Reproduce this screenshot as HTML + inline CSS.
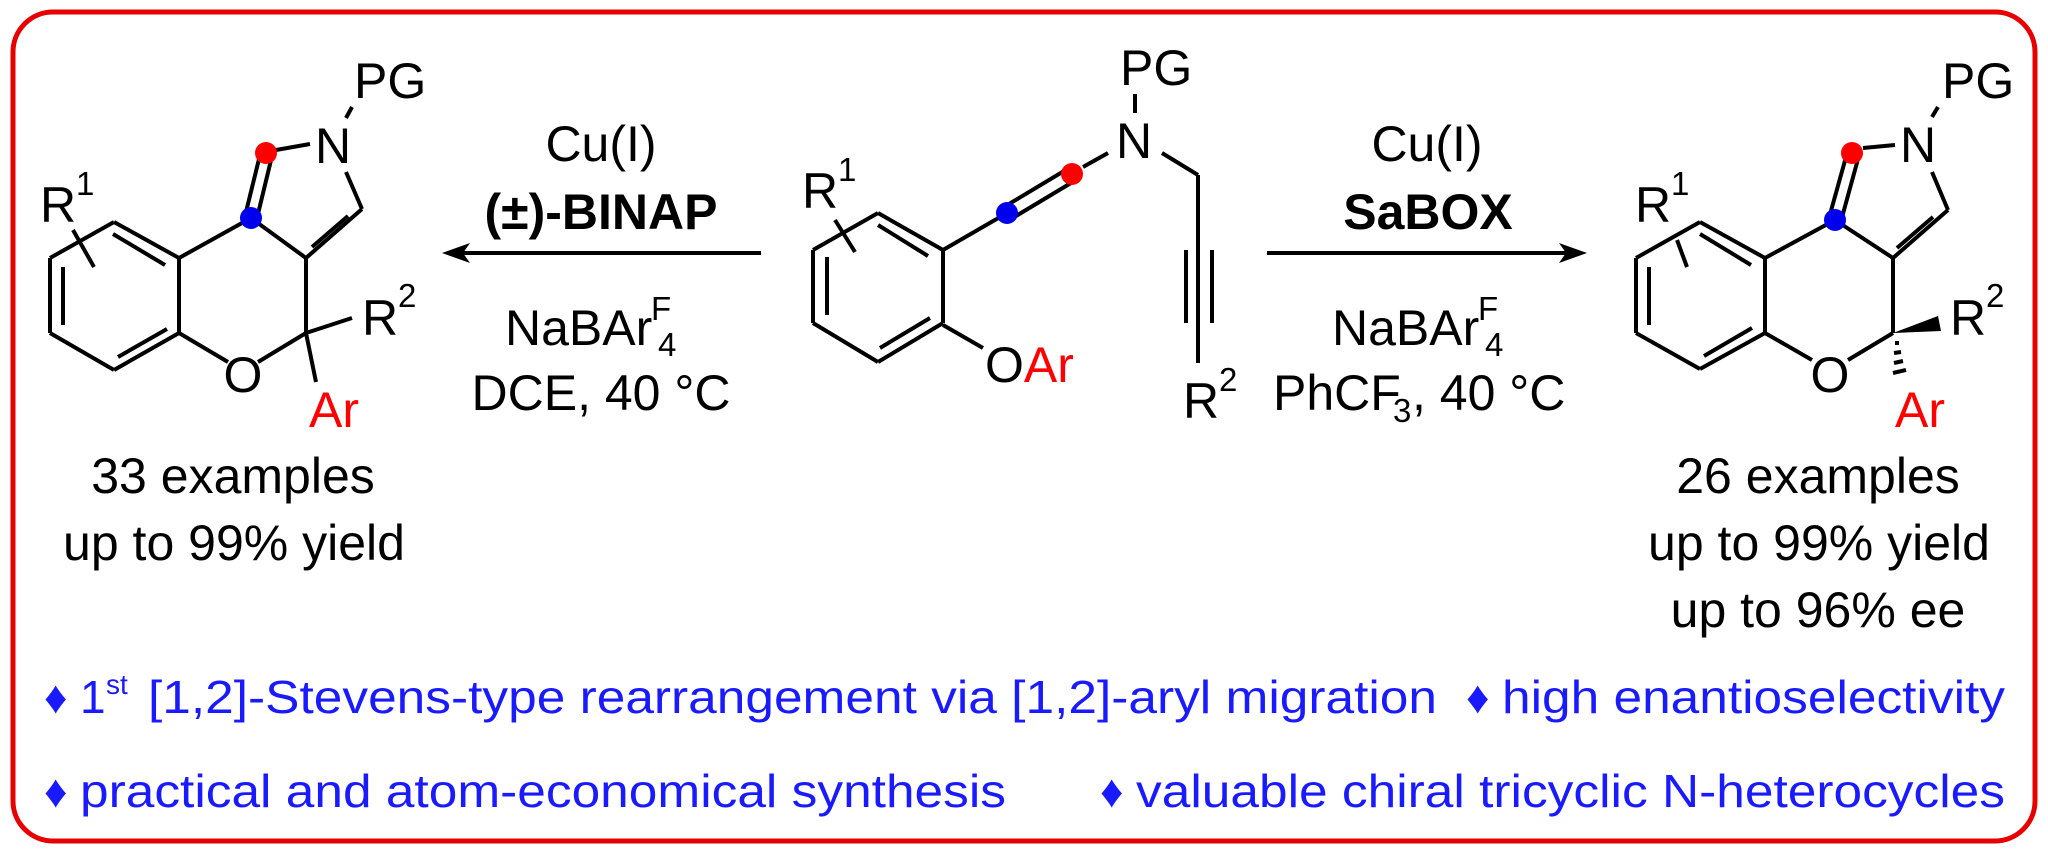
<!DOCTYPE html>
<html><head><meta charset="utf-8"><style>
html,body{margin:0;padding:0;background:#fff;}
svg{display:block;}
text{font-family:"Liberation Sans",Arial,sans-serif;}
</style></head><body>
<svg width="2048" height="854" viewBox="0 0 2048 854" xmlns="http://www.w3.org/2000/svg">
<rect x="13" y="12" width="2022" height="829" rx="40" ry="40" fill="none" stroke="#e60000" stroke-width="5"/>
<g stroke="#000" stroke-width="4" fill="none" stroke-linecap="butt">
<line x1="276" y1="150" x2="310" y2="144"/>
<line x1="352" y1="107" x2="346" y2="118"/>
<line x1="346" y1="172" x2="362" y2="209"/>
<line x1="362" y1="209" x2="306" y2="258"/>
<line x1="348" y1="216" x2="312" y2="247"/>
<line x1="251" y1="218" x2="306" y2="258"/>
<line x1="306" y1="258" x2="306" y2="333"/>
<line x1="251" y1="218" x2="179" y2="258"/>
<line x1="179" y1="258" x2="179" y2="333"/>
<line x1="179" y1="258" x2="114" y2="222"/>
<line x1="113" y1="234" x2="165" y2="265"/>
<line x1="114" y1="222" x2="50" y2="258"/>
<line x1="50" y1="258" x2="50" y2="333"/>
<line x1="63" y1="267" x2="63" y2="325"/>
<line x1="50" y1="333" x2="114" y2="370"/>
<line x1="114" y1="370" x2="179" y2="333"/>
<line x1="118" y1="357" x2="167" y2="329"/>
<line x1="179" y1="333" x2="228" y2="362"/>
<line x1="258" y1="362" x2="306" y2="333"/>
<line x1="306" y1="333" x2="352" y2="318"/>
<line x1="306" y1="333" x2="316" y2="382"/>
<line x1="73" y1="230" x2="94" y2="267"/>
<line x1="260" y1="155" x2="245" y2="216"/>
<line x1="272" y1="156" x2="257" y2="218"/>
<line x1="1135" y1="94" x2="1135" y2="113"/>
<line x1="1108" y1="153" x2="1083" y2="167"/>
<line x1="1069" y1="168" x2="1004" y2="207"/>
<line x1="1076" y1="180" x2="1011" y2="219"/>
<line x1="1007" y1="213" x2="943" y2="250"/>
<line x1="943" y1="250" x2="943" y2="323"/>
<line x1="943" y1="250" x2="878" y2="213"/>
<line x1="878" y1="225" x2="928" y2="256"/>
<line x1="878" y1="213" x2="813" y2="250"/>
<line x1="813" y1="250" x2="813" y2="323"/>
<line x1="827" y1="257" x2="827" y2="315"/>
<line x1="813" y1="323" x2="878" y2="362"/>
<line x1="878" y1="362" x2="943" y2="323"/>
<line x1="880" y1="348" x2="930" y2="318"/>
<line x1="943" y1="325" x2="983" y2="348"/>
<line x1="1162" y1="153" x2="1198" y2="175"/>
<line x1="1198" y1="175" x2="1198" y2="363"/>
<line x1="1186" y1="250" x2="1186" y2="323"/>
<line x1="1212" y1="250" x2="1212" y2="323"/>
<line x1="835" y1="220" x2="855" y2="252"/>
<line x1="1863" y1="148" x2="1895" y2="145"/>
<line x1="1938" y1="107" x2="1932" y2="117"/>
<line x1="1932" y1="172" x2="1948" y2="210"/>
<line x1="1948" y1="210" x2="1893" y2="258"/>
<line x1="1933" y1="217" x2="1897" y2="248"/>
<line x1="1835" y1="220" x2="1893" y2="258"/>
<line x1="1893" y1="258" x2="1893" y2="333"/>
<line x1="1835" y1="220" x2="1765" y2="258"/>
<line x1="1765" y1="258" x2="1765" y2="333"/>
<line x1="1765" y1="258" x2="1700" y2="222"/>
<line x1="1700" y1="234" x2="1751" y2="265"/>
<line x1="1700" y1="222" x2="1636" y2="258"/>
<line x1="1636" y1="258" x2="1636" y2="333"/>
<line x1="1649" y1="267" x2="1649" y2="325"/>
<line x1="1636" y1="333" x2="1700" y2="369"/>
<line x1="1700" y1="369" x2="1765" y2="333"/>
<line x1="1704" y1="356" x2="1752" y2="328"/>
<line x1="1765" y1="333" x2="1812" y2="360"/>
<line x1="1848" y1="360" x2="1893" y2="333"/>
<line x1="1677" y1="240" x2="1687" y2="267"/>
<line x1="1846" y1="157" x2="1829" y2="218"/>
<line x1="1858" y1="159" x2="1841" y2="221"/>
<line x1="1895" y1="343" x2="1899" y2="343"/>
<line x1="1894" y1="353" x2="1901" y2="352"/>
<line x1="1894" y1="363" x2="1903" y2="361"/>
<line x1="1893" y1="373" x2="1906" y2="370"/>
<line x1="761" y1="253" x2="456" y2="253"/>
<line x1="1267" y1="253" x2="1572" y2="253"/>
</g>
<polygon points="1893,333 1938,316 1941,331" fill="#000"/>
<polygon points="442,253 470,243 463,253 470,263" fill="#000"/>
<polygon points="1587,253 1559,243 1566,253 1559,263" fill="#000"/>
<circle cx="266" cy="153" r="11" fill="#f00"/>
<circle cx="251" cy="218" r="11" fill="#0000ee"/>
<circle cx="1072" cy="174" r="11" fill="#f00"/>
<circle cx="1007" cy="213" r="11" fill="#0000ee"/>
<circle cx="1852" cy="153" r="11" fill="#f00"/>
<circle cx="1835" cy="220" r="11" fill="#0000ee"/>
<g font-size="50" fill="#000">
<text x="354" y="98">PG</text>
<text x="333" y="163" text-anchor="middle">N</text>
<text x="243" y="392" text-anchor="middle">O</text>
<text x="334" y="427" text-anchor="middle" fill="#f00">Ar</text>
<text x="362" y="335">R</text><text x="398" y="307" font-size="33">2</text>
<text x="40" y="222">R</text><text x="76" y="195" font-size="33">1</text>
<text x="233" y="493" text-anchor="middle">33 examples</text>
<text x="234" y="560" text-anchor="middle">up to 99% yield</text>
<text x="601" y="161" text-anchor="middle">Cu(I)</text>
<text x="601" y="229" text-anchor="middle" font-weight="bold">(±)-BINAP</text>
<text x="505" y="345">NaBAr</text><text x="651" y="320" font-size="33">F</text><text x="658" y="356" font-size="33">4</text>
<text x="601" y="410" text-anchor="middle">DCE, 40 °C</text>
<text x="1120" y="85">PG</text>
<text x="1134" y="158" text-anchor="middle">N</text>
<text x="985" y="382">O<tspan fill="#f00">Ar</tspan></text>
<text x="1183" y="418">R</text><text x="1219" y="391" font-size="33">2</text>
<text x="802" y="208">R</text><text x="838" y="181" font-size="33">1</text>
<text x="1427" y="161" text-anchor="middle">Cu(I)</text>
<text x="1428" y="229" text-anchor="middle" font-weight="bold">SaBOX</text>
<text x="1332" y="345">NaBAr</text><text x="1478" y="320" font-size="33">F</text><text x="1485" y="356" font-size="33">4</text>
<text x="1273" y="410">PhCF</text><text x="1393" y="422" font-size="33">3</text><text x="1412" y="410">, 40 °C</text>
<text x="1942" y="98">PG</text>
<text x="1918" y="162" text-anchor="middle">N</text>
<text x="1830" y="392" text-anchor="middle">O</text>
<text x="1895" y="427" fill="#f00">Ar</text>
<text x="1950" y="335">R</text><text x="1986" y="307" font-size="33">2</text>
<text x="1635" y="222">R</text><text x="1671" y="195" font-size="33">1</text>
<text x="1818" y="493" text-anchor="middle">26 examples</text>
<text x="1819" y="560" text-anchor="middle">up to 99% yield</text>
<text x="1818" y="627" text-anchor="middle">up to 96% ee</text>
</g>
<g font-size="46" fill="#1a1aff">
<text x="44" y="713">♦</text>
<text x="80" y="713">1</text>
<text x="106" y="694" font-size="28">st</text>
<text x="148" y="713" textLength="1289" lengthAdjust="spacingAndGlyphs">[1,2]-Stevens-type rearrangement via [1,2]-aryl migration</text>
<text x="1466" y="713">♦</text>
<text x="1502" y="713" textLength="503" lengthAdjust="spacingAndGlyphs">high enantioselectivity</text>
<text x="44" y="807">♦</text>
<text x="80" y="807" textLength="926" lengthAdjust="spacingAndGlyphs">practical and atom-economical synthesis</text>
<text x="1100" y="807">♦</text>
<text x="1136" y="807" textLength="869" lengthAdjust="spacingAndGlyphs">valuable chiral tricyclic N-heterocycles</text>
</g>
</svg>
</body></html>
